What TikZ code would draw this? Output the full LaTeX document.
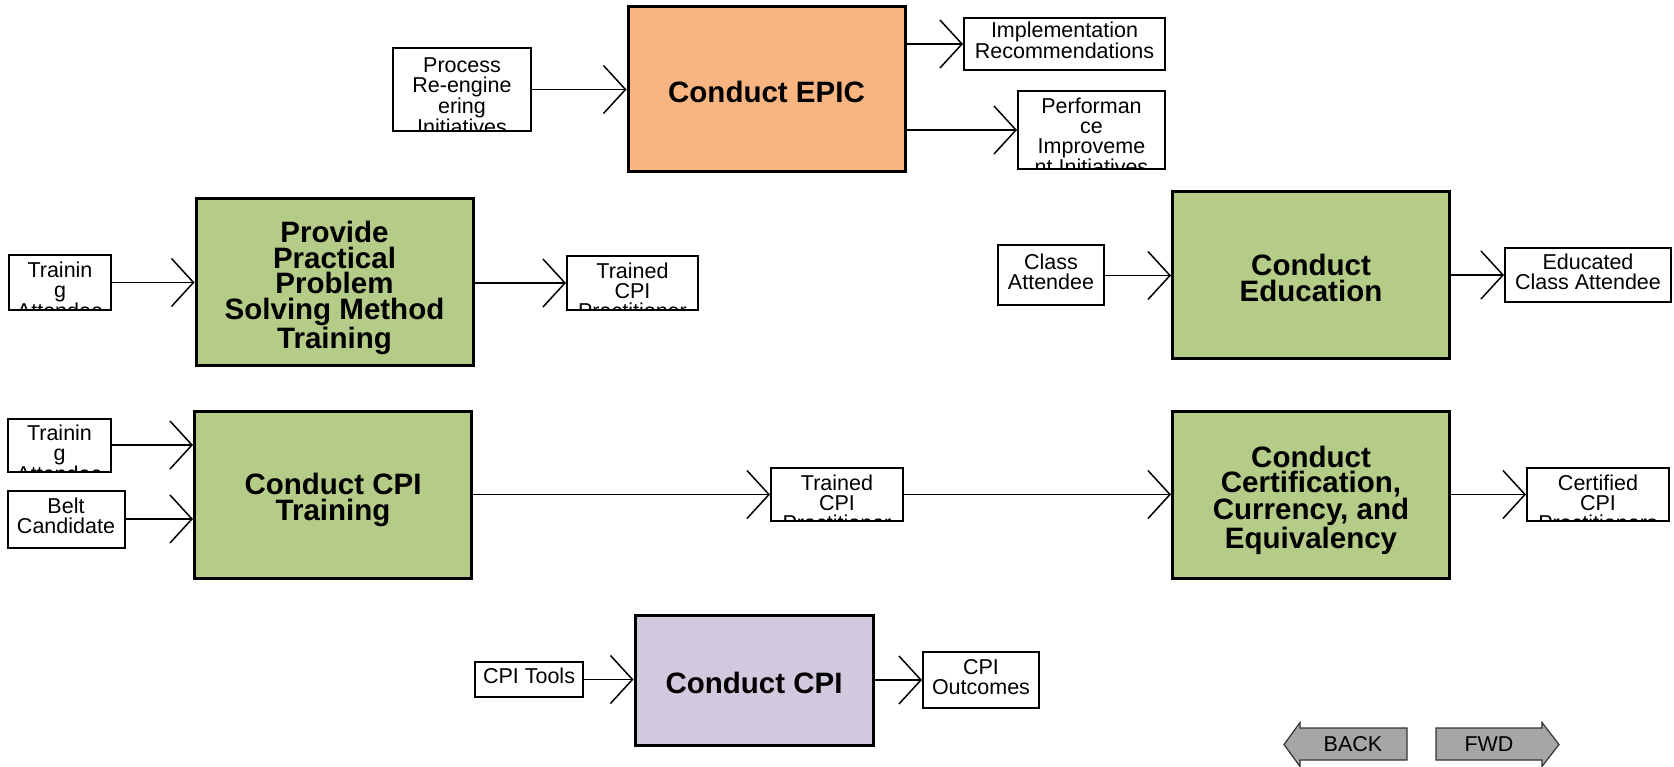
\documentclass[tikz,border=0pt]{standalone}
\usepackage{fontspec}
\setmainfont{Liberation Sans}
\usetikzlibrary{arrows.meta}
\definecolor{epicor}{RGB}{248,181,129}
\definecolor{procgreen}{RGB}{181,203,136}
\definecolor{cpipurple}{RGB}{210,201,222}
\definecolor{navgray}{RGB}{166,166,166}
\newcommand{\mytop}{\rule{0pt}{0.966em}}
\newcommand{\mybot}{\rule[-0.25em]{0pt}{0.25em}}
\tikzset{
 proc/.style={draw=black, line width=3pt, inner sep=0pt, align=center,
   font=\fontsize{29.5}{25.5}\selectfont\bfseries},
 proctext/.style={inner sep=0pt, align=center, yshift=-2.5pt,
   font=\fontsize{29.5}{25.5}\selectfont\bfseries},
 iobox/.style={draw=black, fill=white, line width=2pt, inner sep=0pt, align=center,
   font=\fontsize{21.5}{20}\selectfont},
 iotext/.style={inner sep=0pt, align=center, yshift=3.5pt,
   font=\fontsize{21.5}{20}\selectfont},
 cliptext/.style={anchor=north, inner sep=0pt, align=center,
   font=\fontsize{21.5}{20}\selectfont},
 conn/.style={line width=1.5pt, -{Straight Barb[length=22pt,width=48pt,line width=1.5pt]}},
 navarrow/.style={draw=black!80, fill=navgray, line width=1.2pt},
 navtext/.style={inner sep=0pt, font=\fontsize{21.5}{20}\selectfont}
}
\newcommand{\cliptxt}[1]{\node[cliptext] at ([yshift=-5.5pt]path picture bounding box.north) {#1};}
\begin{document}
\begin{tikzpicture}[x=1pt,y=-1pt]
\useasboundingbox (0,0) rectangle (1674,767);

% process boxes
\node[proc, fill=epicor, minimum width=277pt, minimum height=165pt] (epic) at (766.5,89.5) {};
\node[proctext] (epict) at (epic) {\mytop Conduct EPIC\mybot};
\node[proc, fill=procgreen, minimum width=277pt, minimum height=167pt] (ppt) at (334.5,282.5) {};
\node[proctext] (pptt) at (ppt) {\mytop Provide\\Practical\\Problem\\Solving Method\\Training\mybot};
\node[proc, fill=procgreen, minimum width=277pt, minimum height=167pt] (edu) at (1311,275.5) {};
\node[proctext] (edut) at (edu) {\mytop Conduct\\Education\mybot};
\node[proc, fill=procgreen, minimum width=277pt, minimum height=167pt] (cpit) at (333,494.5) {};
\node[proctext] (cpitt) at (cpit) {\mytop Conduct CPI\\Training\mybot};
\node[proc, fill=procgreen, minimum width=277pt, minimum height=167pt] (cert) at (1311,494.5) {};
\node[proctext] (certt) at (cert) {\mytop Conduct\\Certification,\\Currency, and\\Equivalency\mybot};
\node[proc, fill=cpipurple, minimum width=238pt, minimum height=130pt] (cpi) at (754,680) {};
\node[proctext] (cpitxt) at (cpi) {\mytop Conduct CPI\mybot};

% input / output boxes
\node[iobox, minimum width=138pt, minimum height=83pt,
  path picture={\cliptxt{Process\\Re-engine\\ering\\Initiatives}}] (pre) at (462,89.5) {};
\node[iobox, minimum width=201pt, minimum height=52pt] (impl) at (1064.5,44) {};
\node[iotext] (implt) at (impl) {\mytop Implementation\\Recommendations\mybot};
\node[iobox, minimum width=147pt, minimum height=78pt,
  path picture={\cliptxt{Performan\\ce\\Improveme\\nt Initiatives}}] (perf) at (1091.5,130) {};

\node[iobox, minimum width=102pt, minimum height=55pt,
  path picture={\cliptxt{Trainin\\g\\Attendee}}] (ta1) at (60,282.5) {};
\node[iobox, minimum width=131pt, minimum height=54pt,
  path picture={\cliptxt{Trained\\CPI\\Practitioner}}] (tcp1) at (632.5,283) {};

\node[iobox, minimum width=106pt, minimum height=60pt] (ca) at (1051,275.5) {};
\node[iotext] (cat) at (ca) {\mytop Class\\Attendee\mybot};
\node[iobox, minimum width=166pt, minimum height=54pt] (eca) at (1588,275) {};
\node[iotext] (ecat) at (eca) {\mytop Educated\\Class Attendee\mybot};

\node[iobox, minimum width=103pt, minimum height=53pt,
  path picture={\cliptxt{Trainin\\g\\Attendee}}] (ta2) at (59.5,445) {};
\node[iobox, minimum width=117pt, minimum height=57pt] (belt) at (66,519) {};
\node[iotext] (beltt) at (belt) {\mytop Belt\\Candidate\mybot};
\node[iobox, minimum width=132pt, minimum height=53pt,
  path picture={\cliptxt{Trained\\CPI\\Practitioner}}] (tcp2) at (837,494.5) {};
\node[iobox, minimum width=142pt, minimum height=53pt,
  path picture={\cliptxt{Certified\\CPI\\Practitioners}}] (ccp) at (1598,494.5) {};

\node[iobox, minimum width=108pt, minimum height=35pt] (tools) at (529,679.5) {};
\node[iotext] (toolst) at (tools) {\mytop CPI Tools\mybot};
\node[iobox, minimum width=116pt, minimum height=56pt] (outc) at (981,680) {};
\node[iotext] (outct) at (outc) {\mytop CPI\\Outcomes\mybot};

% connectors
\draw[conn] (pre.east) -- (pre.east -| epic.west);
\draw[conn] (impl.west -| epic.east) -- (impl.west);
\draw[conn] (perf.west -| epic.east) -- (perf.west);
\draw[conn] (ta1.east) -- (ta1.east -| ppt.west);
\draw[conn] (tcp1.west -| ppt.east) -- (tcp1.west);
\draw[conn] (ca.east) -- (ca.east -| edu.west);
\draw[conn] (eca.west -| edu.east) -- (eca.west);
\draw[conn] (ta2.east) -- (ta2.east -| cpit.west);
\draw[conn] (belt.east) -- (belt.east -| cpit.west);
\draw[conn] (tcp2.west -| cpit.east) -- (tcp2.west);
\draw[conn] (tcp2.east) -- (tcp2.east -| cert.west);
\draw[conn] (ccp.west -| cert.east) -- (ccp.west);
\draw[conn] (tools.east) -- (tools.east -| cpi.west);
\draw[conn] (outc.west -| cpi.east) -- (outc.west);

% navigation arrows
\draw[navarrow] (1284,744.5) -- (1300,722.5) -- (1300,728) -- (1407,728) -- (1407,760) -- (1300,760) -- (1300,766.5) -- cycle;
\node[navtext] (back) at (1353,744) {BACK};
\draw[navarrow] (1559,744.5) -- (1542,722.5) -- (1542,728) -- (1436,728) -- (1436,760) -- (1542,760) -- (1542,766.5) -- cycle;
\node[navtext] (fwd) at (1489,744) {FWD};
\end{tikzpicture}
\end{document}
